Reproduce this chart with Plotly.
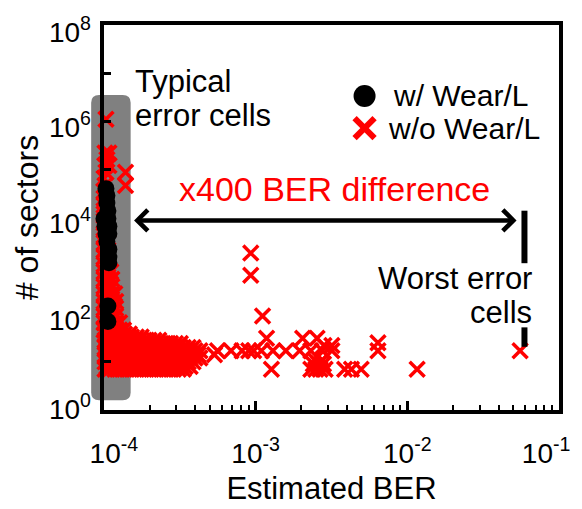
import plotly.graph_objects as go

# ---------------- data ----------------
# w/ Wear/L  (black circles)
black_ber = [0.971e-4, 0.971e-4, 1.030e-4, 0.971e-4, 1.045e-4, 0.971e-4, 1.045e-4,
             0.985e-4, 1.061e-4, 1.000e-4, 1.061e-4, 1.015e-4, 1.077e-4, 1.030e-4,
             1.077e-4, 1.045e-4, 1.077e-4, 1.077e-4, 1.077e-4, 1.061e-4, 1.061e-4]
black_sectors = [575000, 39800, 39800, 28800, 28800, 19950, 19950,
                 13800, 13800, 9550, 9550, 6600, 6600, 4570,
                 4570, 3160, 2190, 1510, 1150, 145, 69]

# w/o Wear/L  (red crosses) : one row per sector count, BER values on that row
rowA = [0.942e-4, 1.015e-4, 1.093e-4, 1.178e-4, 1.268e-4, 1.366e-4, 1.471e-4, 1.585e-4,
        1.707e-4, 1.839e-4, 1.981e-4, 2.134e-4, 2.298e-4, 2.475e-4, 2.666e-4, 2.872e-4,
        3.093e-4, 3.332e-4, 3.589e-4, 3.866e-4, 4.164e-4, 4.485e-4]
rowB = [0.971e-4, 1.046e-4, 1.126e-4, 1.213e-4, 1.307e-4, 1.407e-4, 1.516e-4, 1.633e-4,
        1.759e-4, 1.894e-4, 2.040e-4, 2.198e-4, 2.367e-4, 2.550e-4, 2.746e-4, 2.958e-4,
        3.186e-4, 3.432e-4, 3.697e-4, 3.982e-4, 4.289e-4]

red_sectors = [1100000, 700000, 220000, 160000, 120000, 87000, 65000, 46000, 35000,
               25000, 18000, 12000, 8500, 6000, 4200, 3000, 2100, 1500, 1050, 750,
               520, 370, 260, 180, 130, 90, 65, 46,
               38, 33, 28, 24, 20, 17, 14, 12, 10, 8, 7,
               9, 11, 31, 22, 25, 630, 1820]
red_ber = [
    [0.956e-4, 1.030e-4],
    [0.942e-4],
    [0.942e-4, 1.015e-4, 1.077e-4],
    [0.971e-4, 1.045e-4],
    [0.942e-4, 1.015e-4, 1.077e-4],
    [0.956e-4, 1.030e-4, 1.386e-4],
    [0.942e-4, 1.000e-4],
    [0.942e-4, 1.015e-4, 1.386e-4],
    [0.942e-4, 1.000e-4],
    [0.942e-4, 1.000e-4],
    [0.942e-4, 1.000e-4],
    [0.942e-4, 1.000e-4],
    [0.942e-4, 1.000e-4],
    [0.942e-4, 1.000e-4],
    [0.942e-4, 1.000e-4],
    [0.942e-4, 1.000e-4, 1.061e-4],
    [0.942e-4, 1.000e-4, 1.061e-4],
    [0.942e-4, 1.000e-4, 1.061e-4],
    [0.942e-4, 1.000e-4, 1.061e-4],
    [0.942e-4, 1.000e-4, 1.061e-4, 1.109e-4],
    [0.942e-4, 1.000e-4, 1.061e-4, 1.126e-4],
    [0.942e-4, 1.000e-4, 1.061e-4, 1.126e-4],
    [0.942e-4, 1.000e-4, 1.061e-4, 1.126e-4, 1.178e-4],
    [0.942e-4, 1.000e-4, 1.061e-4, 1.126e-4, 1.195e-4],
    [0.942e-4, 1.000e-4, 1.061e-4, 1.126e-4, 1.195e-4],
    [0.942e-4, 1.000e-4, 1.061e-4, 1.126e-4, 1.195e-4, 1.11e-3],
    [0.942e-4, 1.000e-4, 1.061e-4, 1.126e-4, 1.195e-4, 1.268e-4],
    [0.942e-4, 1.000e-4, 1.061e-4, 1.126e-4, 1.195e-4, 1.268e-4, 1.346e-4],
    rowA[:7],
    rowB[:9],
    rowA[:13],
    rowB[:17],
    rowA[:20],
    rowB + [5.6e-4, 6.88e-4, 8.13e-4, 9.0e-4, 9.7e-4, 1.09e-3, 1.30e-3, 1.58e-3,
            1.95e-3, 2.31e-3, 2.75e-3, 3.18e-3, 6.4e-3, 5.54e-2],
    rowA[:21] + [5.35e-4],
    rowB,
    rowA[:20],
    rowB[:19],
    rowA[:18] + [1.27e-3, 2.31e-3, 2.49e-3, 2.66e-3, 2.87e-3, 3.86e-3, 4.28e-3,
                 4.96e-3, 1.16e-2],
    [2.4e-3, 2.6e-3, 2.8e-3],
    [2.45e-3, 2.75e-3],
    [1.18e-3, 2.04e-3, 2.54e-3],
    [2.82e-3, 3.18e-3],
    [6.4e-3],
    [9.28e-4],
    [9.28e-4],
]

x_tick_vals = [1e-4, 1e-3, 1e-2, 1e-1]
x_tick_text = ["10<sup>-4</sup>", "10<sup>-3</sup>", "10<sup>-2</sup>", "10<sup>-1</sup>"]
y_tick_exp = [0, 2, 4, 6, 8]
y_tick_text = ["10<sup>0</sup>", "10<sup>2</sup>", "10<sup>4</sup>", "10<sup>6</sup>",
               "10<sup>8</sup>"]

# ---------------- figure ----------------
W, H = 582, 509
ML, MR, MT, MB = 104, 17, 17, 96
PW, PH = W - ML - MR, H - MT - MB
XDEC = PW / 3.0   # pixels per decade on x
YDEC = PH / 8.0   # pixels per decade on y


def px_x(p):
    return (p - ML) / PW


def px_y(p):
    return (H - MB - p) / PH


red_x, red_y = [], []
for cnt, row in zip(red_sectors, red_ber):
    for b in row:
        red_x.append(b)
        red_y.append(cnt)

# tick-label placement (labels at the plot ends are pulled inside the page, as in the source)
x_label_shift_px = [10, 0, 0, -13]
x_label_pos = [v * 10 ** (s / XDEC) for v, s in zip(x_tick_vals, x_label_shift_px)]
# y labels sit a few pixels below their ticks (the bottom one must stay inside the axis)
Y2_RANGE = [-0.4, 8.0]
y_label_down_px = [-1, 7, 6, 6, 7]
y_label_pos = [10 ** (Y2_RANGE[0] + (k * YDEC - d) / PH * (Y2_RANGE[1] - Y2_RANGE[0]))
               for k, d in zip(y_tick_exp, y_label_down_px)]
# main-axis-equivalent position of each label on the stretched label axis
y_label_pos = [10 ** (Y2_RANGE[0] + (Y2_RANGE[1] - Y2_RANGE[0]) * ((k * YDEC - d) / PH))
               if k > 0 else 10 ** (Y2_RANGE[0] + (Y2_RANGE[1] - Y2_RANGE[0]) * (1 / PH))
               for k, d in zip(y_tick_exp, y_label_down_px)]

FONT = "Liberation Sans, Arial, sans-serif"

fig = go.Figure()
fig.add_trace(go.Scatter(
    x=red_x, y=red_y, mode="markers", name="w/o Wear/L", cliponaxis=False,
    marker=dict(symbol="x-thin", size=15, color="#ff0000",
                line=dict(width=3.5, color="#ff0000"))))
fig.add_trace(go.Scatter(
    x=black_ber, y=black_sectors, mode="markers", name="w/ Wear/L", cliponaxis=False,
    marker=dict(symbol="circle", size=17, color="black", line=dict(width=0))))
# carrier for the tick-label axes
fig.add_trace(go.Scatter(x=[None], y=[None], xaxis="x2", yaxis="y2", mode="markers",
                         showlegend=False, hoverinfo="skip"))

# grey "typical error cells" band (rounded rectangle)
x0, x1 = px_x(91), px_x(131)
y0, y1 = px_y(403), px_y(89)
rx, ry = 8 / PW, 8 / PH
path = (f"M{x0+rx},{y0} L{x1-rx},{y0} Q{x1},{y0} {x1},{y0+ry} L{x1},{y1-ry} "
        f"Q{x1},{y1} {x1-rx},{y1} L{x0+rx},{y1} Q{x0},{y1} {x0},{y1-ry} "
        f"L{x0},{y0+ry} Q{x0},{y0} {x0+rx},{y0} Z")
shapes = [dict(type="path", path=path, xref="paper", yref="paper",
               fillcolor="#808080", line=dict(width=0), layer="below")]

# worst-error marker line
for ya, yb in [(208, 262), (328, 348)]:
    shapes.append(dict(type="line", xref="paper", yref="paper",
                       x0=px_x(530), x1=px_x(530), y0=px_y(ya), y1=px_y(yb),
                       line=dict(color="black", width=6)))

# legend keys
shapes.append(dict(type="circle", xref="paper", yref="paper",
                   xsizemode="pixel", ysizemode="pixel",
                   xanchor=px_x(368), yanchor=px_y(90),
                   x0=-11, x1=11, y0=-11, y1=11,
                   fillcolor="black", line=dict(width=0)))
for s in (1, -1):
    shapes.append(dict(type="line", xref="paper", yref="paper",
                       xsizemode="pixel", ysizemode="pixel",
                       xanchor=px_x(368), yanchor=px_y(123),
                       x0=-10, x1=10, y0=-10 * s, y1=10 * s,
                       line=dict(color="#ff0000", width=6)))

annotations = [
    dict(text="Typical", x=px_x(133), y=px_y(75), xanchor="left", yanchor="middle",
         font=dict(size=31)),
    dict(text="error cells", x=px_x(133), y=px_y(110), xanchor="left", yanchor="middle",
         font=dict(size=31)),
    dict(text="x400 BER difference", x=px_x(338), y=px_y(186), xanchor="center",
         yanchor="middle", font=dict(size=34, color="#ff0000")),
    dict(text="Worst error", x=px_x(540), y=px_y(278), xanchor="right", yanchor="middle",
         font=dict(size=31)),
    dict(text="cells", x=px_x(540), y=px_y(313), xanchor="right", yanchor="middle",
         font=dict(size=31)),
    dict(text="w/ Wear/L", x=px_x(395), y=px_y(90), xanchor="left", yanchor="middle",
         font=dict(size=30)),
    dict(text="w/o Wear/L", x=px_x(390), y=px_y(123), xanchor="left", yanchor="middle",
         font=dict(size=30)),
    dict(text="", x=px_x(522), y=px_y(218), ax=-(522 - 138), ay=0,
         showarrow=True, arrowhead=4, startarrowhead=4, arrowside="end+start",
         arrowwidth=4.5, arrowsize=0.9, startarrowsize=0.9, arrowcolor="black",
         standoff=0, startstandoff=0),
]
for a in annotations:
    a.setdefault("xref", "paper")
    a.setdefault("yref", "paper")
    a.setdefault("showarrow", False)

minor_vals = [m * 10 ** e for e in (-4, -3, -2) for m in range(2, 10)]
ymajor = [10 ** k for k in range(9)]

fig.update_layout(
    width=W, height=H,
    margin=dict(l=ML, r=MR, t=MT, b=MB),
    plot_bgcolor="white", paper_bgcolor="white",
    showlegend=False,
    font=dict(family=FONT, color="black"),
    shapes=shapes, annotations=annotations,
    xaxis=dict(type="log", range=[-4, -1], showline=True, linewidth=4, linecolor="black",
               mirror=True, showgrid=False, zeroline=False,
               ticks="inside", ticklen=9, tickwidth=2.5, tickcolor="black",
               tickvals=x_tick_vals, showticklabels=False,
               minor=dict(ticks="inside", ticklen=5, tickwidth=2, tickcolor="black",
                          tickvals=minor_vals, showgrid=False),
               title=dict(text="Estimated BER", font=dict(size=31), standoff=65)),
    yaxis=dict(type="log", range=[0, 8], showline=True, linewidth=4, linecolor="black",
               mirror=True, showgrid=False, zeroline=False,
               ticks="inside", ticklen=7, tickwidth=2.5, tickcolor="black",
               tickvals=ymajor, showticklabels=False,
               title=dict(text="# of sectors", font=dict(size=32), standoff=53)),
    xaxis2=dict(type="log", range=[-4, -1], overlaying="x", anchor="y2", side="bottom",
                showline=False, showgrid=False, zeroline=False,
                ticks="", tickvals=x_label_pos, ticktext=x_tick_text,
                tickfont=dict(size=28), ticklabelstandoff=24),
    yaxis2=dict(type="log", range=Y2_RANGE, overlaying="y", anchor="x2", side="left",
                showline=False, showgrid=False, zeroline=False,
                ticks="", tickvals=y_label_pos, ticktext=y_tick_text,
                tickfont=dict(size=28), ticklabelstandoff=12),
)

fig.write_html("out.html", config={"displayModeBar": False},
               post_script="document.body.style.margin='0px';")
